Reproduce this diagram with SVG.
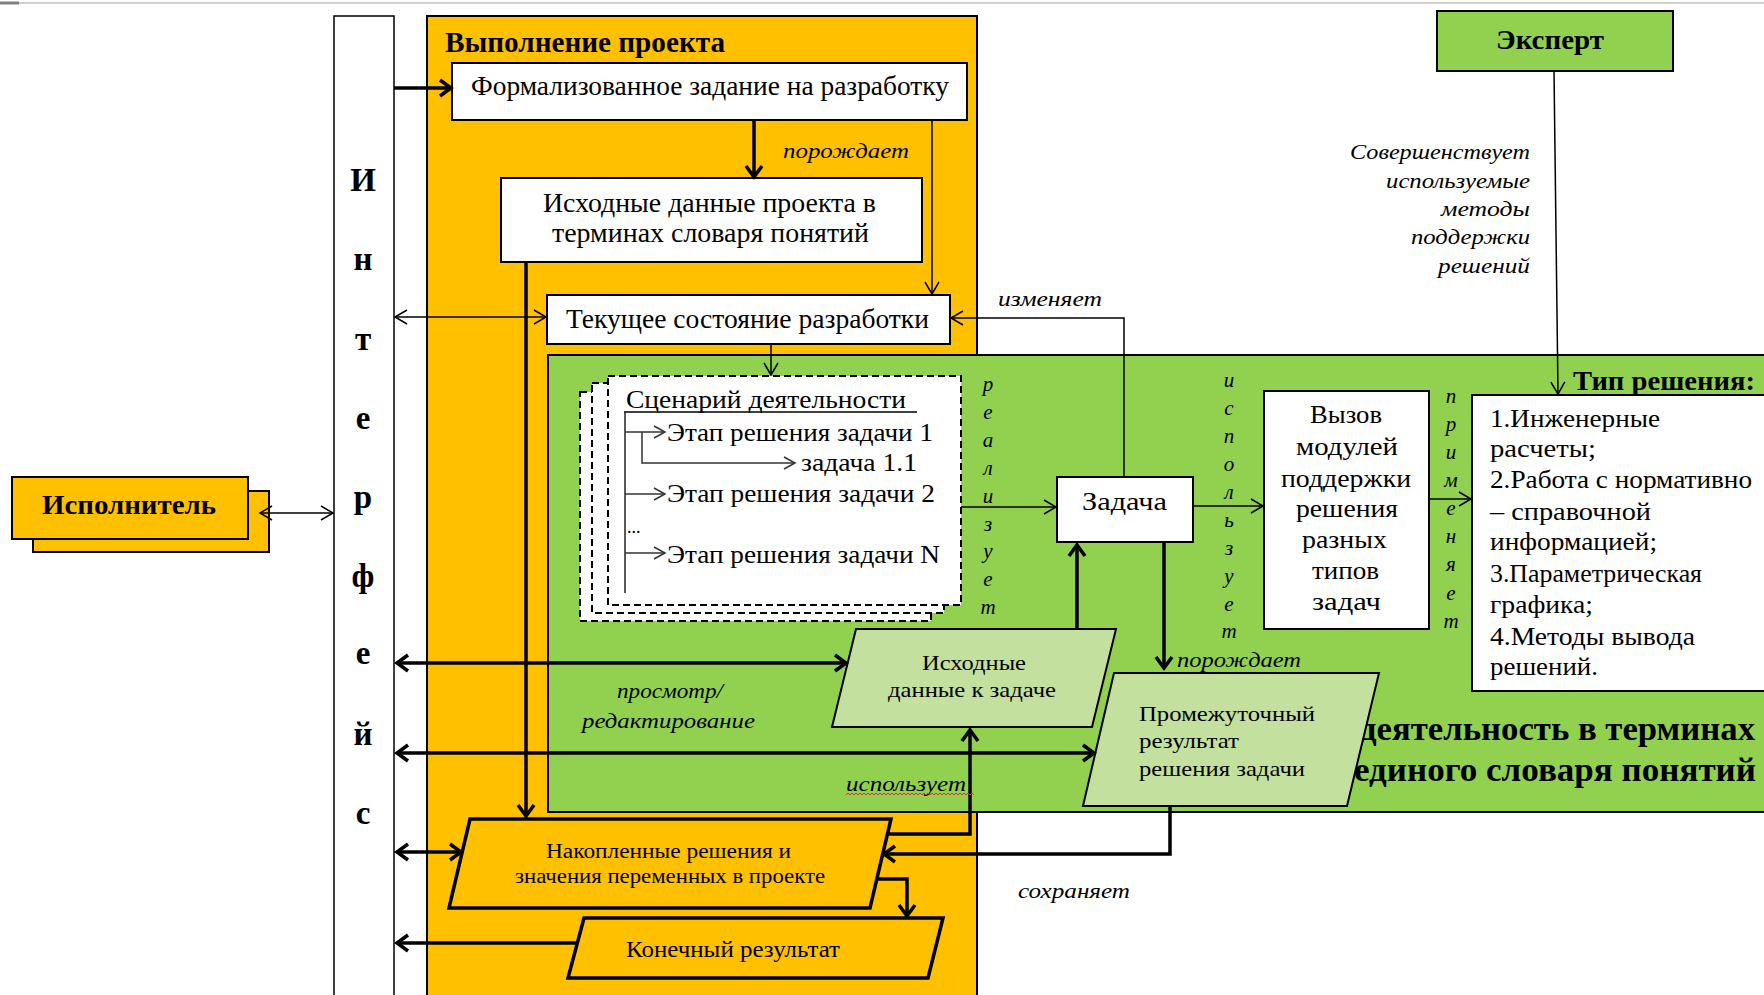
<svg xmlns="http://www.w3.org/2000/svg" width="1764" height="995" viewBox="0 0 1764 995">
<style>
text{font-family:"Liberation Serif","Times New Roman",serif;fill:#000}
.b{font-weight:bold}
.i{font-style:italic}
.box{fill:#fff;stroke:#000;stroke-width:2}
.org{fill:#FFC000;stroke:#000;stroke-width:2}
.orgT{fill:#FFC000;stroke:#000;stroke-width:3.5;stroke-linejoin:miter}
.grn{fill:#92D050;stroke:#000;stroke-width:2}
.lg{fill:#C3E09E;stroke:#000;stroke-width:2}
.dash{fill:#fff;stroke:#000;stroke-width:2;stroke-dasharray:7 4}
.thin{fill:none;stroke:#000;stroke-width:1.5}
.thick{fill:none;stroke:#000;stroke-width:3.5}
.gray{fill:none;stroke:#333;stroke-width:1.5}
.lab{font-size:22px;font-style:italic}
.vl{font-size:21px;font-style:italic;text-anchor:middle}
.il{font-size:33px;font-weight:bold;text-anchor:middle}
</style>
<defs>
<marker id="mt" viewBox="-14 -9 18 18" refX="0" refY="0" markerWidth="18" markerHeight="18" markerUnits="userSpaceOnUse" orient="auto-start-reverse" overflow="visible"><path d="M-12,-7 L0,0 L-12,7" fill="none" stroke="#000" stroke-width="1.5"/></marker>
<marker id="mg" viewBox="-14 -9 18 18" refX="0" refY="0" markerWidth="18" markerHeight="18" markerUnits="userSpaceOnUse" orient="auto-start-reverse" overflow="visible"><path d="M-11,-6 L0,0 L-11,6" fill="none" stroke="#333" stroke-width="1.5"/></marker>
<marker id="mT" viewBox="-16 -11 22 22" refX="0" refY="0" markerWidth="22" markerHeight="22" markerUnits="userSpaceOnUse" orient="auto-start-reverse" overflow="visible"><path d="M-11,-8 L0,0 L-11,8" fill="none" stroke="#000" stroke-width="3.5"/></marker>
</defs>
<rect x="0" y="0" width="1764" height="995" fill="#fff"/>
<g id="frame">
<line x1="0" y1="3" x2="1764" y2="3" stroke="#d0d0d0" stroke-width="2"/>
<line x1="0" y1="3" x2="19" y2="3" stroke="#808080" stroke-width="3"/>
</g>
<g id="panel-project">
<rect class="org" x="427" y="16" width="550" height="990"/>
<text class="b" x="445" y="52" font-size="30" textLength="280" lengthAdjust="spacingAndGlyphs">Выполнение проекта</text>
</g>
<g id="panel-activity">
<rect class="grn" x="548" y="355" width="1230" height="457"/>
<text class="b" x="1359" y="740" font-size="33" textLength="396" lengthAdjust="spacingAndGlyphs">деятельность в терминах</text>
<text class="b" x="1354" y="781" font-size="33" textLength="402" lengthAdjust="spacingAndGlyphs">единого словаря понятий</text>
</g>
<g id="interface">
<rect x="334" y="16" width="60" height="990" fill="#fff" stroke="#000" stroke-width="1.5"/>
<text class="il" x="363" y="191">И</text>
<text class="il" x="363" y="270">н</text>
<text class="il" x="363" y="350">т</text>
<text class="il" x="363" y="429">е</text>
<text class="il" x="363" y="508">р</text>
<text class="il" x="363" y="587">ф</text>
<text class="il" x="363" y="664">е</text>
<text class="il" x="363" y="745">й</text>
<text class="il" x="363" y="824">с</text>
</g>
<g id="executor">
<rect class="org" x="33" y="491" width="236" height="61"/>
<rect class="org" x="12" y="477" width="236" height="62"/>
<text class="b" x="42" y="514" font-size="27" textLength="174" lengthAdjust="spacingAndGlyphs">Исполнитель</text>
</g>
<g id="expert">
<rect class="grn" x="1437" y="11" width="236" height="60"/>
<text class="b" x="1496" y="49" font-size="27" textLength="108" lengthAdjust="spacingAndGlyphs">Эксперт</text>
</g>
<g id="formal-task">
<rect class="box" x="452" y="63" width="515" height="57"/>
<text x="471" y="95" font-size="27" textLength="478" lengthAdjust="spacingAndGlyphs">Формализованное задание на разработку</text>
</g>
<g id="project-data">
<rect class="box" x="501" y="178" width="421" height="84"/>
<text x="543" y="212" font-size="27" textLength="333" lengthAdjust="spacingAndGlyphs">Исходные данные проекта в</text>
<text x="552" y="242" font-size="27" textLength="317" lengthAdjust="spacingAndGlyphs">терминах  словаря понятий</text>
</g>
<g id="current-state">
<rect class="box" x="547" y="295" width="403" height="49"/>
<text x="566" y="328" font-size="27" textLength="363" lengthAdjust="spacingAndGlyphs">Текущее состояние разработки</text>
</g>
<g id="scenario">
<rect class="dash" x="580" y="392" width="351" height="229"/>
<rect class="dash" x="592" y="383" width="352" height="230"/>
<rect class="dash" x="608" y="376" width="353" height="229"/>
<text x="626" y="408" font-size="25" textLength="280" lengthAdjust="spacingAndGlyphs">Сценарий деятельности</text>
<line x1="624" y1="412" x2="917" y2="412" stroke="#000" stroke-width="1.5"/>
<line x1="625" y1="412" x2="625" y2="593" stroke="#222" stroke-width="1.5"/>
<path class="gray" d="M625,432 H665" marker-end="url(#mg)"/>
<path class="gray" d="M642,432 V463 H795" marker-end="url(#mg)"/>
<path class="gray" d="M625,494 H665" marker-end="url(#mg)"/>
<path class="gray" d="M625,553 H665" marker-end="url(#mg)"/>
<text x="667" y="441" font-size="25" textLength="266" lengthAdjust="spacingAndGlyphs">Этап решения задачи 1</text>
<text x="801" y="471" font-size="25" textLength="116" lengthAdjust="spacingAndGlyphs">задача 1.1</text>
<text x="667" y="502" font-size="25" textLength="268" lengthAdjust="spacingAndGlyphs">Этап решения задачи 2</text>
<text x="627" y="533" font-size="18">...</text>
<text x="667" y="563" font-size="25" textLength="273" lengthAdjust="spacingAndGlyphs">Этап решения задачи N</text>
</g>
<g id="task">
<rect class="box" x="1057" y="477" width="136" height="65"/>
<text x="1082" y="510" font-size="26" textLength="85" lengthAdjust="spacingAndGlyphs">Задача</text>
</g>
<g id="modules">
<rect class="box" x="1264" y="391" width="165" height="238"/>
<text x="1310" y="423" font-size="25" textLength="72" lengthAdjust="spacingAndGlyphs">Вызов</text>
<text x="1296" y="455" font-size="25" textLength="102" lengthAdjust="spacingAndGlyphs">модулей</text>
<text x="1281" y="487" font-size="25" textLength="130" lengthAdjust="spacingAndGlyphs">поддержки</text>
<text x="1296" y="517" font-size="25" textLength="102" lengthAdjust="spacingAndGlyphs">решения</text>
<text x="1302" y="548" font-size="25" textLength="85" lengthAdjust="spacingAndGlyphs">разных</text>
<text x="1312" y="579" font-size="25" textLength="67" lengthAdjust="spacingAndGlyphs">типов</text>
<text x="1312" y="610" font-size="25" textLength="69" lengthAdjust="spacingAndGlyphs">задач</text>
</g>
<g id="solution-type">
<rect class="box" x="1472" y="395" width="310" height="296"/>
<text class="b" x="1573" y="390" font-size="27" textLength="182" lengthAdjust="spacingAndGlyphs">Тип решения:</text>
<text x="1490" y="427" font-size="25" textLength="170" lengthAdjust="spacingAndGlyphs">1.Инженерные</text>
<text x="1490" y="457" font-size="25" textLength="106" lengthAdjust="spacingAndGlyphs">расчеты;</text>
<text x="1490" y="488" font-size="25" textLength="262" lengthAdjust="spacingAndGlyphs">2.Работа с нормативно</text>
<text x="1490" y="520" font-size="25" textLength="161" lengthAdjust="spacingAndGlyphs">– справочной</text>
<text x="1490" y="550" font-size="25" textLength="167" lengthAdjust="spacingAndGlyphs">информацией;</text>
<text x="1490" y="582" font-size="25" textLength="212" lengthAdjust="spacingAndGlyphs">3.Параметрическая</text>
<text x="1490" y="613" font-size="25" textLength="103" lengthAdjust="spacingAndGlyphs">графика;</text>
<text x="1490" y="645" font-size="25" textLength="205" lengthAdjust="spacingAndGlyphs">4.Методы вывода</text>
<text x="1490" y="675" font-size="25" textLength="108" lengthAdjust="spacingAndGlyphs">решений.</text>
</g>
<g id="task-data">
<polygon class="lg" points="856,629 1116,629 1092,727 832,727"/>
<text x="922" y="670" font-size="22" textLength="104" lengthAdjust="spacingAndGlyphs">Исходные</text>
<text x="888" y="697" font-size="22" textLength="168" lengthAdjust="spacingAndGlyphs">данные  к задаче</text>
</g>
<g id="intermediate">
<polygon class="lg" points="1114,673 1379,673 1347,806 1083,806"/>
<text x="1139" y="721" font-size="22" textLength="176" lengthAdjust="spacingAndGlyphs">Промежуточный</text>
<text x="1139" y="748" font-size="22" textLength="100" lengthAdjust="spacingAndGlyphs">результат</text>
<text x="1139" y="776" font-size="22" textLength="166" lengthAdjust="spacingAndGlyphs">решения  задачи</text>
</g>
<g id="accumulated">
<polygon class="orgT" points="470,819 891,819 870,908 449,908"/>
<text x="546" y="858" font-size="20" textLength="245" lengthAdjust="spacingAndGlyphs">Накопленные решения и</text>
<text x="515" y="883" font-size="20" textLength="310" lengthAdjust="spacingAndGlyphs">значения переменных в проекте</text>
</g>
<g id="final">
<polygon class="orgT" points="584,918 943,918 928,978 568,978"/>
<text x="626" y="957" font-size="23" textLength="214" lengthAdjust="spacingAndGlyphs">Конечный  результат</text>
</g>
<g id="connectors">
<path class="thick" d="M394,88 H451" marker-end="url(#mT)"/>
<path class="thick" d="M754,120 V177" marker-end="url(#mT)"/>
<path class="thin" d="M932,120 V294" marker-end="url(#mt)"/>
<path class="thin" d="M395,317 H546" marker-start="url(#mt)" marker-end="url(#mt)"/>
<path class="thin" d="M771,344 V375" marker-end="url(#mt)"/>
<path class="thin" d="M961,507 H1056" marker-end="url(#mt)"/>
<path class="thin" d="M1124,477 V318 H951" marker-end="url(#mt)"/>
<path class="thin" d="M1193,506 H1263" marker-end="url(#mt)"/>
<path class="thin" d="M1429,499 H1471" marker-end="url(#mt)"/>
<path class="thin" d="M1554,71 L1558,394" marker-end="url(#mt)"/>
<path class="thick" d="M1077,629 V545" marker-end="url(#mT)"/>
<path class="thick" d="M1164,542 V668" marker-end="url(#mT)"/>
<path class="thick" d="M397,663 H846" marker-start="url(#mT)" marker-end="url(#mT)"/>
<path class="thick" d="M397,753 H1094" marker-start="url(#mT)" marker-end="url(#mT)"/>
<path class="thick" d="M397,852 H461" marker-start="url(#mT)" marker-end="url(#mT)"/>
<path class="thick" d="M577,943 H397" marker-end="url(#mT)"/>
<path class="thick" d="M526,262 V816" marker-end="url(#mT)"/>
<path class="thick" d="M888,834 H970 V730" marker-end="url(#mT)"/>
<path class="thick" d="M1170,806 V854 H884" marker-end="url(#mT)"/>
<path class="thick" d="M876,879 H907 V916" marker-end="url(#mT)"/>
<path class="thin" d="M260,513 H333" marker-start="url(#mt)" marker-end="url(#mt)"/>
<text class="lab" x="783" y="158" textLength="126" lengthAdjust="spacingAndGlyphs">порождает</text>
<text class="lab" x="998" y="306" textLength="104" lengthAdjust="spacingAndGlyphs">изменяет</text>
<text class="lab" x="1350" y="159" textLength="180" lengthAdjust="spacingAndGlyphs">Совершенствует</text>
<text class="lab" x="1386" y="188" textLength="144" lengthAdjust="spacingAndGlyphs">используемые</text>
<text class="lab" x="1441" y="216" textLength="89" lengthAdjust="spacingAndGlyphs">методы</text>
<text class="lab" x="1411" y="244" textLength="119" lengthAdjust="spacingAndGlyphs">поддержки</text>
<text class="lab" x="1438" y="273" textLength="92" lengthAdjust="spacingAndGlyphs">решений</text>
<text class="lab" x="617" y="698" textLength="106" lengthAdjust="spacingAndGlyphs">просмотр/</text>
<text class="lab" x="582" y="728" textLength="173" lengthAdjust="spacingAndGlyphs">редактирование</text>
<text class="lab" x="846" y="791" textLength="120" lengthAdjust="spacingAndGlyphs">использует</text>
<path d="M846 795 l2 -2 l2 2 l2 -2 l2 2 l2 -2 l2 2 l2 -2 l2 2 l2 -2 l2 2 l2 -2 l2 2 l2 -2 l2 2 l2 -2 l2 2 l2 -2 l2 2 l2 -2 l2 2 l2 -2 l2 2 l2 -2 l2 2 l2 -2 l2 2 l2 -2 l2 2 l2 -2 l2 2 l2 -2 l2 2 l2 -2 l2 2 l2 -2 l2 2 l2 -2 l2 2 l2 -2 l2 2 l2 -2 l2 2 l2 -2 l2 2 l2 -2 l2 2 l2 -2 l2 2 l2 -2 l2 2 l2 -2 l2 2 l2 -2 l2 2 l2 -2 l2 2 l2 -2 l2 2 l2 -2 l2 2 l2 -2 l2 2 l2 -2 l2 2" fill="none" stroke="#e03030" stroke-width="1"/>
<text class="lab" x="1177" y="667" textLength="124" lengthAdjust="spacingAndGlyphs">порождает</text>
<text class="lab" x="1018" y="898" textLength="112" lengthAdjust="spacingAndGlyphs">сохраняет</text>
<g id="label-realizes">
<text class="vl" x="988" y="391">р</text>
<text class="vl" x="988" y="419">е</text>
<text class="vl" x="988" y="447">а</text>
<text class="vl" x="988" y="475">л</text>
<text class="vl" x="988" y="503">и</text>
<text class="vl" x="988" y="531">з</text>
<text class="vl" x="988" y="558">у</text>
<text class="vl" x="988" y="586">е</text>
<text class="vl" x="988" y="614">т</text>
</g>
<g id="label-uses">
<text class="vl" x="1229" y="387">и</text>
<text class="vl" x="1229" y="415">с</text>
<text class="vl" x="1229" y="443">п</text>
<text class="vl" x="1229" y="471">о</text>
<text class="vl" x="1229" y="499">л</text>
<text class="vl" x="1229" y="527">ь</text>
<text class="vl" x="1229" y="555">з</text>
<text class="vl" x="1229" y="583">у</text>
<text class="vl" x="1229" y="611">е</text>
<text class="vl" x="1229" y="638">т</text>
</g>
<g id="label-applies">
<text class="vl" x="1451" y="403">п</text>
<text class="vl" x="1451" y="431">р</text>
<text class="vl" x="1451" y="459">и</text>
<text class="vl" x="1451" y="487">м</text>
<text class="vl" x="1451" y="515">е</text>
<text class="vl" x="1451" y="543">н</text>
<text class="vl" x="1451" y="571">я</text>
<text class="vl" x="1451" y="600">е</text>
<text class="vl" x="1451" y="628">т</text>
</g>
</g>
</svg>
